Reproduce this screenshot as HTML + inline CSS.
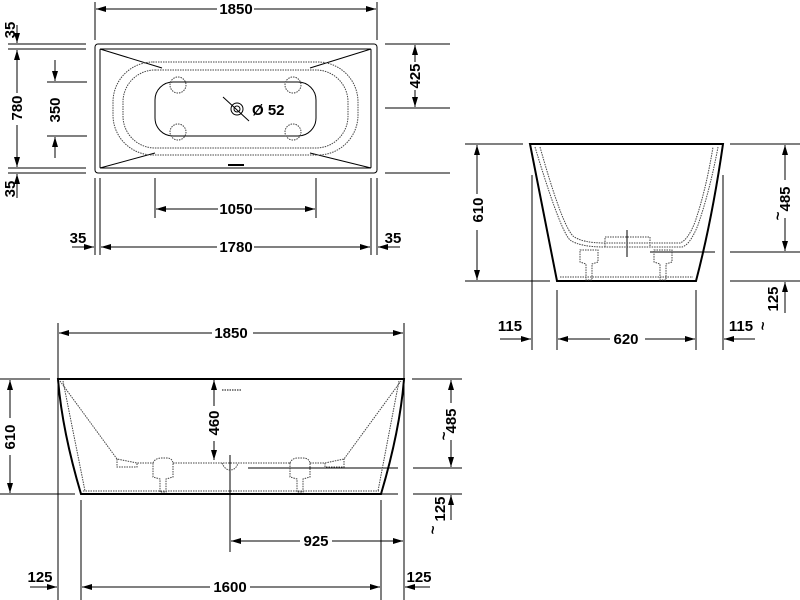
<!DOCTYPE html>
<html><head><style>
html,body{margin:0;padding:0;background:#fff;}
svg{display:block;}
text{font-family:"Liberation Sans",sans-serif;font-weight:bold;font-size:15px;fill:#000;}
.t{stroke:#000;stroke-width:1;fill:none;}
.k{stroke:#000;stroke-width:2;fill:none;}
.d{stroke:#444;stroke-width:1;fill:none;stroke-dasharray:1.5 1;}
</style></head><body>
<svg width="800" height="600" viewBox="0 0 800 600" xmlns="http://www.w3.org/2000/svg">
<defs>
<marker id="a" viewBox="0 0 10 6" refX="10" refY="3" markerWidth="10" markerHeight="6" orient="auto-start-reverse" markerUnits="userSpaceOnUse"><path d="M0,0 L10,3 L0,6 z" fill="#000"/></marker>
</defs>
<g class="t">
<line x1="95" y1="2" x2="95" y2="40"/><line x1="377" y1="2" x2="377" y2="40"/>
<line x1="96" y1="9" x2="217" y2="9" marker-start="url(#a)"/><line x1="254" y1="9" x2="376" y2="9" marker-end="url(#a)"/>
<line x1="8" y1="44" x2="86" y2="44"/><line x1="8" y1="49" x2="86" y2="49"/>
<line x1="8" y1="168" x2="86" y2="168"/><line x1="8" y1="173" x2="86" y2="173"/>
<line x1="17" y1="25" x2="17" y2="43" marker-end="url(#a)"/>
<line x1="17" y1="198" x2="17" y2="174" marker-end="url(#a)"/>
<line x1="17" y1="50" x2="17" y2="93" marker-start="url(#a)"/><line x1="17" y1="125" x2="17" y2="167" marker-end="url(#a)"/>
<line x1="47" y1="82" x2="87" y2="82"/><line x1="47" y1="136" x2="87" y2="136"/>
<line x1="55" y1="60" x2="55" y2="81" marker-end="url(#a)"/><line x1="55" y1="158" x2="55" y2="137" marker-end="url(#a)"/>
<rect x="95" y="44" width="282" height="129" rx="3"/>
<rect x="100" y="49" width="271" height="119" rx="1"/>
<line x1="100" y1="49" x2="162" y2="68"/><line x1="371" y1="49" x2="310" y2="68"/>
<line x1="100" y1="168" x2="155" y2="153"/><line x1="371" y1="168" x2="310" y2="153"/>
<rect x="155" y="82" width="161" height="54" rx="18"/>
<line x1="228" y1="165" x2="244" y2="165" stroke-width="2"/>
<circle cx="237" cy="109" r="6"/><circle cx="237" cy="109" r="3"/>
<line x1="223" y1="97" x2="249" y2="121"/>
<line x1="385" y1="44" x2="450" y2="44"/><line x1="385" y1="108" x2="450" y2="108"/><line x1="385" y1="173" x2="450" y2="173"/>
<line x1="415" y1="45" x2="415" y2="62" marker-start="url(#a)"/><line x1="415" y1="90" x2="415" y2="107" marker-end="url(#a)"/>
<line x1="155" y1="178" x2="155" y2="218"/><line x1="316" y1="178" x2="316" y2="218"/>
<line x1="156" y1="209" x2="218" y2="209" marker-start="url(#a)"/><line x1="254" y1="209" x2="315" y2="209" marker-end="url(#a)"/>
<line x1="95" y1="178" x2="95" y2="255"/><line x1="100" y1="178" x2="100" y2="255"/>
<line x1="371" y1="178" x2="371" y2="255"/><line x1="377" y1="178" x2="377" y2="255"/>
<line x1="101" y1="247" x2="217" y2="247" marker-start="url(#a)"/><line x1="254" y1="247" x2="370" y2="247" marker-end="url(#a)"/>
<line x1="72" y1="247" x2="94" y2="247" marker-end="url(#a)"/><line x1="400" y1="247" x2="378" y2="247" marker-end="url(#a)"/>
</g>
<g class="d">
<rect x="113" y="62" width="245" height="93" rx="40"/>
<rect x="123" y="70" width="225" height="78" rx="32"/>
<circle cx="178" cy="85" r="8"/><circle cx="293" cy="85" r="8"/>
<circle cx="178" cy="132" r="8"/><circle cx="293" cy="132" r="8"/>
</g>
<text x="236" y="14" text-anchor="middle">1850</text>
<text transform="translate(15,30) rotate(-90)" text-anchor="middle">35</text>
<text transform="translate(22,108) rotate(-90)" text-anchor="middle">780</text>
<text transform="translate(60,110) rotate(-90)" text-anchor="middle">350</text>
<text transform="translate(15,189) rotate(-90)" text-anchor="middle">35</text>
<text transform="translate(420,76) rotate(-90)" text-anchor="middle">425</text>
<text x="252" y="115">Ø 52</text>
<text x="236" y="214" text-anchor="middle">1050</text>
<text x="236" y="252" text-anchor="middle">1780</text>
<text x="78" y="243" text-anchor="middle">35</text>
<text x="393" y="243" text-anchor="middle">35</text>

<g class="t">
<path class="k" d="M530,144 L723,144 Q712,220 696,281 L557,281 Q545,220 530,144 Z"/>
<line x1="465" y1="144" x2="523" y2="144"/><line x1="465" y1="281" x2="550" y2="281"/>
<line x1="477" y1="145" x2="477" y2="194" marker-start="url(#a)"/><line x1="477" y1="230" x2="477" y2="280" marker-end="url(#a)"/>
<line x1="730" y1="144" x2="800" y2="144"/><line x1="730" y1="252" x2="800" y2="252"/><line x1="730" y1="281" x2="800" y2="281"/>
<line x1="650" y1="252" x2="715" y2="252"/>
<line x1="785" y1="145" x2="785" y2="180" marker-start="url(#a)"/><line x1="785" y1="218" x2="785" y2="251" marker-end="url(#a)"/>
<line x1="785" y1="313" x2="785" y2="282" marker-end="url(#a)"/>
<line x1="532" y1="175" x2="532" y2="350"/><line x1="723" y1="175" x2="723" y2="350"/>
<line x1="557" y1="290" x2="557" y2="350"/><line x1="696" y1="290" x2="696" y2="350"/>
<line x1="558" y1="339" x2="610" y2="339" marker-start="url(#a)"/><line x1="645" y1="339" x2="695" y2="339" marker-end="url(#a)"/>
<line x1="500" y1="339" x2="531" y2="339" marker-end="url(#a)"/><line x1="755" y1="339" x2="724" y2="339" marker-end="url(#a)"/>
<line x1="627" y1="230" x2="627" y2="257"/>
</g>
<g class="d">
<path d="M535,147 Q560,230 570,240 Q580,247 605,247 L682,247 Q690,245 698,225 Q710,190 718,147"/>
<path d="M540,147 Q562,225 573,236 Q582,243 605,243 L680,243 Q688,240 695,222 Q706,190 713,147"/>
<path d="M605,247 L605,237 L650,237 L650,247"/>
<path d="M580,250 L598,250 L598,262 L592,264 L592,280 L586,280 L586,264 L580,262 Z"/>
<path d="M654,250 L672,250 L672,262 L666,264 L666,280 L660,280 L660,264 L654,262 Z"/>
<line x1="560" y1="277" x2="693" y2="277"/>
</g>
<text transform="translate(483,210) rotate(-90)" text-anchor="middle">610</text>
<text transform="translate(790,199) rotate(-90)" text-anchor="middle">485</text>
<text transform="translate(783,216) rotate(-90)" text-anchor="middle">~</text>
<text transform="translate(778,299) rotate(-90)" text-anchor="middle">125</text>
<text transform="translate(768,326) rotate(-90)" text-anchor="middle">~</text>
<text x="626" y="344" text-anchor="middle">620</text>
<text x="510" y="331" text-anchor="middle">115</text>
<text x="741" y="331" text-anchor="middle">115</text>

<g class="t">
<path class="k" d="M58,379 L404,379 Q400,430 381,494 L81,494 Q62,430 58,379 Z"/>
<line x1="58" y1="323" x2="58" y2="372"/><line x1="404" y1="323" x2="404" y2="372"/>
<line x1="59" y1="333" x2="212" y2="333" marker-start="url(#a)"/><line x1="253" y1="333" x2="403" y2="333" marker-end="url(#a)"/>
<line x1="0" y1="379" x2="50" y2="379"/><line x1="0" y1="494" x2="75" y2="494"/>
<line x1="10" y1="380" x2="10" y2="418" marker-start="url(#a)"/><line x1="10" y1="455" x2="10" y2="493" marker-end="url(#a)"/>
<line x1="214" y1="380" x2="214" y2="406" marker-start="url(#a)"/><line x1="214" y1="441" x2="214" y2="460" marker-end="url(#a)"/>
<line x1="412" y1="379" x2="462" y2="379"/><line x1="413" y1="468" x2="462" y2="468"/>
<line x1="248" y1="468" x2="398" y2="468"/>
<line x1="413" y1="494" x2="462" y2="494"/><line x1="380" y1="494" x2="398" y2="494"/>
<line x1="451" y1="380" x2="451" y2="403" marker-start="url(#a)"/><line x1="451" y1="440" x2="451" y2="467" marker-end="url(#a)"/>
<line x1="451" y1="520" x2="451" y2="495" marker-end="url(#a)"/>
<line x1="230" y1="455" x2="230" y2="552"/>
<line x1="231" y1="541" x2="300" y2="541" marker-start="url(#a)"/><line x1="332" y1="541" x2="403" y2="541" marker-end="url(#a)"/>
<line x1="58" y1="372" x2="58" y2="600"/><line x1="404" y1="372" x2="404" y2="600"/>
<line x1="81" y1="500" x2="81" y2="600"/><line x1="381" y1="500" x2="381" y2="600"/>
<line x1="82" y1="587" x2="210" y2="587" marker-start="url(#a)"/><line x1="250" y1="587" x2="380" y2="587" marker-end="url(#a)"/>
<line x1="30" y1="587" x2="57" y2="587" marker-end="url(#a)"/><line x1="430" y1="587" x2="405" y2="587" marker-end="url(#a)"/>
<line x1="222" y1="390" x2="242" y2="390" stroke-dasharray="1.5 1"/>
</g>
<g class="d">
<path d="M60,381 L117,459 L137,463 L153,463 M173,463 L290,463 M310,463 L325,463 L344,459 L401,381"/>
<path d="M117,459 L117,467 L137,467 L137,463"/>
<path d="M325,463 L325,467 L344,467 L344,459"/>
<path d="M153,463 Q155,458 162,458 L167,458 Q172,458 173,463 L173,477 L166,479 L166,492 L160,492 L160,479 L153,477 Z"/>
<path d="M290,463 Q292,458 298,458 L303,458 Q309,458 310,463 L310,477 L303,479 L303,492 L297,492 L297,479 L290,477 Z"/>
<path d="M222,463 Q225,470 230,470 Q236,470 238,463"/>
<line x1="83" y1="491" x2="379" y2="491"/>
<line x1="63" y1="381" x2="85" y2="491"/><line x1="399" y1="381" x2="378" y2="491"/>
</g>
<text x="231" y="338" text-anchor="middle">1850</text>
<text transform="translate(15,437) rotate(-90)" text-anchor="middle">610</text>
<text transform="translate(219,423) rotate(-90)" text-anchor="middle">460</text>
<text transform="translate(456,421) rotate(-90)" text-anchor="middle">485</text>
<text transform="translate(449,436) rotate(-90)" text-anchor="middle">~</text>
<text transform="translate(445,509) rotate(-90)" text-anchor="middle">125</text>
<text transform="translate(438,530) rotate(-90)" text-anchor="middle">~</text>
<text x="316" y="546" text-anchor="middle">925</text>
<text x="230" y="592" text-anchor="middle">1600</text>
<text x="40" y="582" text-anchor="middle">125</text>
<text x="419" y="582" text-anchor="middle">125</text>
</svg>
</body></html>
